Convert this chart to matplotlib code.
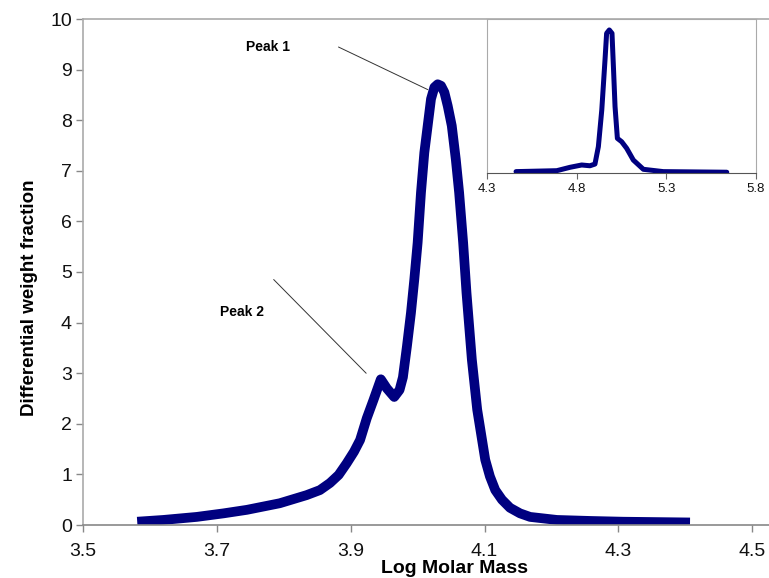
import matplotlib
matplotlib.use('Agg')
import matplotlib.pyplot as plt

# main molar mass distribution
log_mass = [3.581, 3.620, 3.670, 3.710, 3.745, 3.794, 3.834, 3.854, 3.869, 3.882,
            3.894, 3.905, 3.914, 3.924, 3.934, 3.945, 3.954, 3.965, 3.973, 3.978,
            3.984, 3.990, 3.995, 4.000, 4.005, 4.010, 4.015, 4.020, 4.025, 4.030,
            4.035, 4.040, 4.045, 4.051, 4.057, 4.062, 4.068, 4.073, 4.081, 4.089,
            4.101, 4.108, 4.116, 4.126, 4.138, 4.153, 4.168, 4.208, 4.258, 4.307,
            4.407]
weight_frac = [0.065, 0.10, 0.16, 0.23, 0.30, 0.43, 0.59, 0.69, 0.83, 0.99,
               1.22, 1.45, 1.68, 2.11, 2.47, 2.88, 2.70, 2.53, 2.67, 2.92,
               3.53, 4.19, 4.85, 5.58, 6.57, 7.36, 7.89, 8.42, 8.65, 8.71,
               8.68, 8.55, 8.28, 7.89, 7.23, 6.57, 5.58, 4.59, 3.27, 2.28,
               1.29, 0.96, 0.69, 0.50, 0.34, 0.23, 0.16, 0.10, 0.08, 0.065,
               0.05]

# inset distribution
inset_mass = [4.462, 4.689, 4.763, 4.828, 4.874, 4.902, 4.921, 4.94, 4.958, 4.967,
              4.982, 4.997, 5.006, 5.014, 5.027, 5.051, 5.079, 5.116, 5.172, 5.283,
              5.637]
inset_frac = [0.09, 0.15, 0.37, 0.52, 0.47, 0.58, 1.71, 4.09, 7.34, 9.07,
              9.29, 9.07, 6.6, 4.31, 2.25, 2.03, 1.60, 0.84, 0.24, 0.09,
              0.05]

x_ticks = [3.5, 3.7, 3.9, 4.1, 4.3, 4.5]
y_ticks = list(range(0, 11))
inset_ticks = [4.3, 4.8, 5.3, 5.8]

navy = '#000080'
plt.rcParams['font.family'] = ['Liberation Sans', 'DejaVu Sans']

fig = plt.figure(figsize=(7.69, 5.78), dpi=100)
ax = fig.add_axes([83 / 769, 53 / 578, 686 / 769, 506 / 578])

ax.plot(log_mass, weight_frac, color=navy, lw=7, solid_capstyle='butt',
        solid_joinstyle='round')
ax.set_xlim(3.5, 4.525)
ax.set_ylim(0, 10)
ax.set_xticks(x_ticks)
ax.set_xticklabels([f'{v:.1f}' for v in x_ticks])
ax.set_yticks(y_ticks)
ax.tick_params(axis='both', labelsize=14, colors='#888888', labelcolor='#111111',
               direction='out', length=5, width=1)
ax.tick_params(axis='x', pad=8)
ax.tick_params(axis='y', pad=3)

for side in ['left', 'top']:
    ax.spines[side].set_color('#aaaaaa')
ax.spines['bottom'].set_color('#888888')
ax.spines['right'].set_visible(False)
for s in ax.spines.values():
    s.set_linewidth(1.2)

ax.set_ylabel('Differential weight fraction', fontsize=13.5, fontweight='bold')
ax.yaxis.set_label_coords(-0.066, 0.45)
ax.set_xlabel('Log Molar Mass', fontsize=14, fontweight='bold')
ax.xaxis.set_label_coords(0.5416, -0.069)

# peak labels with leader lines
ax.annotate('', xy=(4.019, 8.58), xytext=(3.878, 9.47),
            arrowprops=dict(arrowstyle='-', color='#333333', lw=0.7))
ax.text(3.777, 9.45, 'Peak 1', fontsize=10, fontweight='bold', ha='center', va='center')
ax.annotate('', xy=(3.926, 2.96), xytext=(3.782, 4.89),
            arrowprops=dict(arrowstyle='-', color='#333333', lw=0.7))
ax.text(3.738, 4.21, 'Peak 2', fontsize=10, fontweight='bold', ha='center', va='center')

# inset
ins = fig.add_axes([487 / 769, 405 / 578, 269 / 769, 154 / 578])
ins.plot(inset_mass, inset_frac, color=navy, lw=3.6, solid_capstyle='round',
         solid_joinstyle='round')
ins.set_xlim(4.3, 5.8)
ins.set_ylim(0, 10)
ins.set_xticks(inset_ticks)
ins.set_xticklabels([f'{v:.1f}' for v in inset_ticks])
ins.set_yticks([])
ins.tick_params(axis='x', labelsize=9.5, colors='#666666', labelcolor='#111111',
                direction='out', length=4, pad=3)
for side in ['left', 'top', 'right']:
    ins.spines[side].set_color('#aaaaaa')
ins.spines['bottom'].set_color('#555555')

fig.savefig('out.png', dpi=100)
